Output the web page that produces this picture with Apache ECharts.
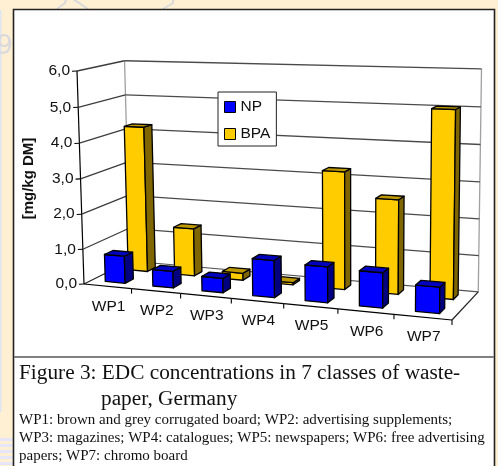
<!DOCTYPE html>
<html><head><meta charset="utf-8">
<script src="https://cdn.jsdelivr.net/npm/echarts@6/dist/echarts.min.js"></script>
<style>html,body{margin:0;padding:0;background:#FFEFD3}#c{width:498px;height:466px}</style>
</head><body><div id="c"></div>
<script>
const categories = ['WP1','WP2','WP3','WP4','WP5','WP6','WP7'];
const npValues = [0.78,0.47,0.40,1.02,0.97,0.94,0.69];
const bpaValues = [4.22,1.37,0.20,0.06,3.25,2.58,5.04];
const yTickValues = [0,1,2,3,4,5,6];
const yTickLabels = ['0,0','1,0','2,0','3,0','4,0','5,0','6,0'];
const caption1 = 'Figure 3: EDC concentrations in 7 classes of waste-';
const caption2 = 'paper, Germany';
const notes = ['WP1: brown and grey corrugated board; WP2: advertising supplements;',
 'WP3: magazines; WP4: catalogues; WP5: newspapers; WP6: free advertising',
 'papers; WP7: chromo board'];

// projective "3D" box: t along categories, s up the value axis, d into the page
const O=[84,284],T=[452,320],S=[77,71],D=[130,261];
const wT=0.89,wS=0.975,wD=1.065;
function proj(t,s,d){
  const h=1+t*(wT-1)+s*(wS-1)+d*(wD-1);
  const f=i=>(O[i]+t*(wT*T[i]-O[i])+s*(wS*S[i]-O[i])+d*(wD*D[i]-O[i]))/h;
  return [f(0),f(1)];
}
function toBox(params,api,cat,val){
  const c=api.coord([cat,val]),g=params.coordSys;
  return {t:(c[0]-g.x)/g.width,s:(g.y+g.height-c[1])/g.height,bw:api.size([1,0])[0]/g.width};
}
function poly(pts,fill){
  return {type:'polygon',shape:{points:pts},style:{fill:fill,stroke:'#000',lineWidth:1.3,lineJoin:'round'}};
}
function line(a,b,stroke,lw){
  return {type:'line',shape:{x1:a[0],y1:a[1],x2:b[0],y2:b[1]},style:{stroke:stroke,lineWidth:lw||1}};
}
function barItem(colors,d0,d1){
  return function(params,api){
    const cat=api.value(0),val=api.value(1);
    const b=toBox(params,api,cat,0),top=toBox(params,api,cat,val);
    const half=b.bw*0.21,tl=b.t-half,tr=b.t+half,s0=0,s1=top.s;
    const p=proj;
    return {type:'group',children:[
      poly([p(tl,s1,d0),p(tr,s1,d0),p(tr,s0,d0),p(tl,s0,d0)],colors[0]),
      poly([p(tr,s1,d0),p(tr,s1,d1),p(tr,s0,d1),p(tr,s0,d0)],colors[2]),
      poly([p(tl,s1,d0),p(tl,s1,d1),p(tr,s1,d1),p(tr,s1,d0)],colors[1])
    ]};
  };
}
function wallsItem(params,api){
  const v=api.value(0);
  const s=toBox(params,api,0,v).s;
  const c=[];
  const a=proj(0,s,0),b=proj(0,s,1),e=proj(1,s,1);
  if(v>0){
    c.push(line(a,b,'#3c3c3c',1.3));
    c.push(line(b,e,'#4a4a4a',1.3));
  }
  c.push(line([a[0]-5,a[1]+0.3],a,'#000',1.1));
  const idx=yTickValues.indexOf(v);
  c.push({type:'text',style:{x:a[0]-7,y:a[1],text:yTickLabels[idx],align:'right',verticalAlign:'middle',
     font:'15.5px "Liberation Sans"',fill:'#111'}});
  return {type:'group',children:c};
}
function frameItem(params,api){
  const gray='#a0a0a0';
  const c=[
    line(proj(0,0,1),proj(0,1,1),gray,1.3),
    line(proj(1,0,1),proj(1,1,1),gray,1.3),
    line(proj(0,0,1),proj(1,0,1),'#555',1.2),
    line(proj(1,0,0),proj(1,0,1),'#222',1.2),
    line(proj(0,0,0),proj(0,0,1),'#222',1.2),
    line(proj(0,0,0),proj(0,1,0),'#000',1.2)
  ];
  return {type:'group',children:c};
}
function axisFrontItem(params,api){
  const cat=api.value(0);
  const b=toBox(params,api,cat,0);
  const m=proj(b.t,0,0),r=proj(b.t+b.bw/2,0,0),l=proj(b.t-b.bw/2,0,0);
  return {type:'group',children:[
    line(l,r,'#000',1.2),
    line(r,[r[0],r[1]+5],'#000',1.1),
    {type:'text',style:{x:m[0]+1,y:m[1]+20,text:categories[cat],align:'center',verticalAlign:'middle',
      font:'15.5px "Liberation Sans"',fill:'#111'}}
  ]};
}

const chart=echarts.init(document.getElementById('c'),null,{renderer:'canvas'});
const serif='"Liberation Serif"';
const wm='#D9D9DC';
const stripeTops=[438,444,450,456,462];
chart.setOption({
  animation:false,
  backgroundColor:'#FFEFD3',
  grid:{left:O[0],top:S[1],width:T[0]-O[0],height:O[1]-S[1],show:false},
  xAxis:{type:'category',data:categories,show:false},
  yAxis:{type:'value',min:0,max:6,interval:1,show:false},
  legend:{
    left:218,top:92,orient:'vertical',backgroundColor:'#fff',borderColor:'#222',borderWidth:1,
    padding:[7,6,4,6],itemWidth:11,itemHeight:11,itemGap:11,
    textStyle:{fontFamily:'Liberation Sans',fontSize:15.5,color:'#111'},
    data:[{name:'NP',icon:'rect',itemStyle:{color:'#0000ff',borderColor:'#000',borderWidth:1}},
          {name:'BPA',icon:'rect',itemStyle:{color:'#ffcc00',borderColor:'#000',borderWidth:1}}]
  },
  graphic:{elements:[
    {type:'rect',z:-10,silent:true,shape:{x:0,y:10,width:1.5,height:402},style:{fill:'#DDE6F2'}},
    ...stripeTops.map(y=>({type:'rect',z:-10,silent:true,shape:{x:0,y:y,width:13,height:3},style:{fill:'#E6E6F8'}})),
    {type:'text',z:-10,style:{x:-4,y:33,text:'9',font:'27px "DejaVu Sans"',fill:wm}},
    {type:'polyline',z:-10,shape:{points:[[57,9],[65,3],[66,-1]]},style:{stroke:wm,lineWidth:2,fill:null}},
    {type:'line',z:-10,shape:{x1:73,y1:-1,x2:88,y2:9},style:{stroke:wm,lineWidth:2}},
    {type:'polyline',z:-10,shape:{points:[[163,9],[173,3],[173,-1]]},style:{stroke:wm,lineWidth:2,fill:null}},
    {type:'rect',z:-8,shape:{x:13.5,y:9.5,width:481,height:470},style:{fill:'#fff',stroke:'#222',lineWidth:1.6}},
    {type:'line',z:-7,shape:{x1:14,y1:357,x2:494,y2:357},style:{stroke:'#808080',lineWidth:2}},
    {type:'text',style:{x:19,y:373,text:caption1,verticalAlign:'middle',font:'21.3px '+serif,fill:'#111'}},
    {type:'text',style:{x:101,y:399,text:caption2,verticalAlign:'middle',font:'21.3px '+serif,fill:'#111'}},
    {type:'text',style:{x:19,y:420,text:notes[0],verticalAlign:'middle',font:'15px '+serif,fill:'#111'}},
    {type:'text',style:{x:19,y:438,text:notes[1],verticalAlign:'middle',font:'15px '+serif,fill:'#111'}},
    {type:'text',style:{x:19,y:456,text:notes[2],verticalAlign:'middle',font:'15px '+serif,fill:'#111'}},
    {type:'text',rotation:Math.PI/2,x:29,y:178.5,style:{x:0,y:0,text:'[mg/kg DM]',align:'center',verticalAlign:'middle',
      font:'bold 15px "Liberation Sans"',fill:'#111'}}
  ]},
  series:[
    {type:'custom',name:'frame',coordinateSystem:'cartesian2d',renderItem:frameItem,data:[[0,0]],z:2,silent:true},
    {type:'custom',name:'walls',coordinateSystem:'cartesian2d',renderItem:wallsItem,data:yTickValues.map(v=>[v]),encode:{y:0},z:3,silent:true},
    {type:'custom',name:'floor',coordinateSystem:'cartesian2d',renderItem:axisFrontItem,data:categories.map((c,i)=>[i]),encode:{x:0},z:3,silent:true},
    {type:'custom',name:'BPA',coordinateSystem:'cartesian2d',itemStyle:{color:'#ffcc00'},
      renderItem:barItem(['#ffcc00','#bf9900','#806600'],0.66,0.84),data:bpaValues.map((v,i)=>[i,v]),encode:{x:0,y:1},z:5},
    {type:'custom',name:'NP',coordinateSystem:'cartesian2d',itemStyle:{color:'#0000ff'},
      renderItem:barItem(['#0000ff','#0000bf','#000080'],0.16,0.34),data:npValues.map((v,i)=>[i,v]),encode:{x:0,y:1},z:6}
  ]
});
</script></body></html>
